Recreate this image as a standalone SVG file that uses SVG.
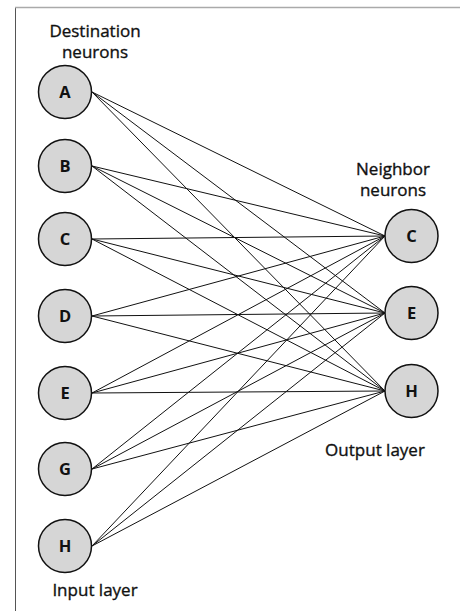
<svg xmlns="http://www.w3.org/2000/svg" width="460" height="611" viewBox="0 0 460 611">
  <style>
    .frame { stroke: #555; stroke-width: 1; fill: none; }
    .frame-top { stroke: #aaa; stroke-width: 1.5; fill: none; }
    .neuron circle { fill: #d6d6d6; stroke: #111; stroke-width: 1.5; }
    .neuron text { font-family: "Open Sans", "Noto Sans", sans-serif; font-size: 16.5px; font-weight: 700; fill: #111; text-anchor: middle; }
    .caption { font-family: "Open Sans", "Noto Sans", sans-serif; font-size: 17px; fill: #111; stroke: #111; stroke-width: 0.35; text-anchor: middle; }
    #connectors line { stroke: #111; stroke-width: 1; }
  </style>

  <rect width="460" height="611" fill="#fff"/>

  <!-- page frame: left rule and faint top rule -->
  <line class="frame" x1="15.5" y1="7" x2="15.5" y2="611"/>
  <line class="frame-top" x1="15" y1="7.5" x2="460" y2="7.5"/>

  <!-- every input neuron feeds every output neuron -->
  <g id="connectors">
    <line x1="92" y1="92" x2="385" y2="236"/>
    <line x1="92" y1="92" x2="385" y2="313"/>
    <line x1="92" y1="92" x2="385" y2="391"/>
    <line x1="92" y1="166" x2="385" y2="236"/>
    <line x1="92" y1="166" x2="385" y2="313"/>
    <line x1="92" y1="166" x2="385" y2="391"/>
    <line x1="92" y1="239" x2="385" y2="236"/>
    <line x1="92" y1="239" x2="385" y2="313"/>
    <line x1="92" y1="239" x2="385" y2="391"/>
    <line x1="92" y1="316" x2="385" y2="236"/>
    <line x1="92" y1="316" x2="385" y2="313"/>
    <line x1="92" y1="316" x2="385" y2="391"/>
    <line x1="92" y1="393" x2="385" y2="236"/>
    <line x1="92" y1="393" x2="385" y2="313"/>
    <line x1="92" y1="393" x2="385" y2="391"/>
    <line x1="92" y1="469" x2="385" y2="236"/>
    <line x1="92" y1="469" x2="385" y2="313"/>
    <line x1="92" y1="469" x2="385" y2="391"/>
    <line x1="92" y1="546" x2="385" y2="236"/>
    <line x1="92" y1="546" x2="385" y2="313"/>
    <line x1="92" y1="546" x2="385" y2="391"/>
  </g>

  <!-- input layer (destination neurons) -->
  <g id="in-A" class="neuron"><circle cx="65" cy="92" r="26.5"/><text x="65" y="98">A</text></g>
  <g id="in-B" class="neuron"><circle cx="65" cy="166" r="26.5"/><text x="65" y="172">B</text></g>
  <g id="in-C" class="neuron"><circle cx="65" cy="239" r="26.5"/><text x="65" y="245">C</text></g>
  <g id="in-D" class="neuron"><circle cx="65" cy="316" r="26.5"/><text x="65" y="322">D</text></g>
  <g id="in-E" class="neuron"><circle cx="65" cy="393" r="26.5"/><text x="65" y="399">E</text></g>
  <g id="in-G" class="neuron"><circle cx="65" cy="469" r="26.5"/><text x="65" y="475">G</text></g>
  <g id="in-H" class="neuron"><circle cx="65" cy="546" r="26.5"/><text x="65" y="552">H</text></g>

  <!-- output layer (neighbor neurons) -->
  <g id="out-C" class="neuron"><circle cx="411.5" cy="236" r="26.5"/><text x="411.5" y="242">C</text></g>
  <g id="out-E" class="neuron"><circle cx="411.5" cy="313" r="26.5"/><text x="411.5" y="319">E</text></g>
  <g id="out-H" class="neuron"><circle cx="411.5" cy="391" r="26.5"/><text x="411.5" y="397">H</text></g>

  <!-- captions -->
  <g id="captions">
    <text class="caption" x="95" y="37">Destination</text>
    <text class="caption" x="95" y="58">neurons</text>
    <text class="caption" x="393" y="175">Neighbor</text>
    <text class="caption" x="393" y="196">neurons</text>
    <text class="caption" x="375" y="456">Output layer</text>
    <text class="caption" x="95" y="596">Input layer</text>
  </g>
</svg>
